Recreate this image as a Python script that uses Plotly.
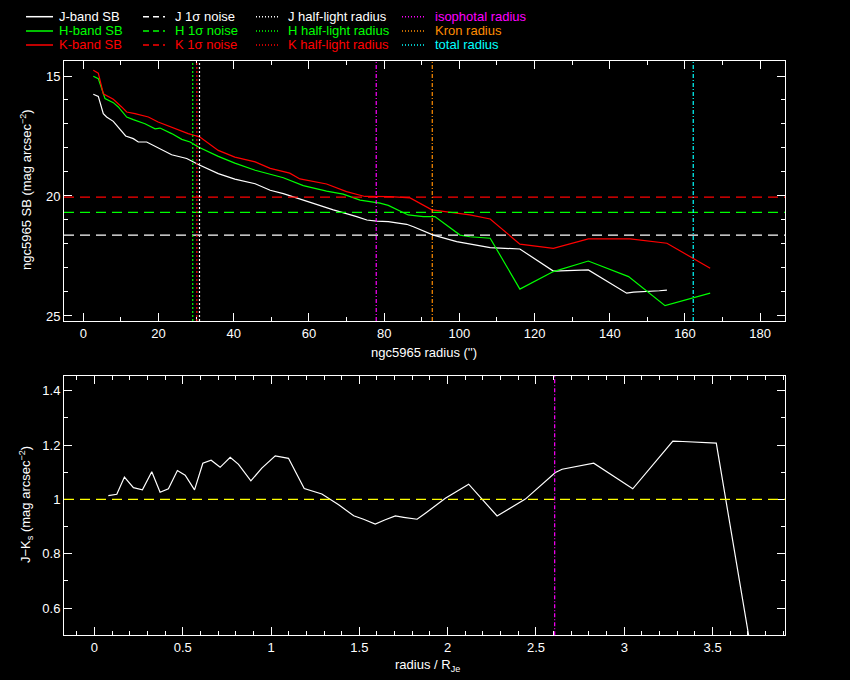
import plotly.graph_objects as go

# ---------------- data ----------------
# top panel: surface brightness profiles (radius in arcsec, SB in mag arcsec^-2)
rJ = [2.66, 3.99, 5.32, 6.2, 7.98, 9.31, 11.27, 13.3, 14.63, 16.86, 18.6, 20.4, 23.5, 27.5,
      30.6, 35.9, 40.3, 45.7, 49.7, 53.2, 58.5, 62.0, 66.5, 72.7, 75.4, 78.0, 81.1, 86.0,
      87.8, 93.1, 99.3, 108.2, 116.1, 125.0, 134.3, 144.5, 146.3, 153.2, 155.2]
sbJ = [15.76, 15.85, 16.57, 16.71, 16.89, 17.13, 17.50, 17.61, 17.75, 17.75, 17.89, 18.0, 18.28, 18.44,
       18.69, 19.07, 19.30, 19.49, 19.76, 19.90, 20.17, 20.35, 20.58, 20.86, 21.0, 21.05, 21.07, 21.18,
       21.28, 21.63, 21.90, 22.15, 22.21, 23.13, 23.08, 24.05, 24.01, 23.95, 23.92]

rH = [2.66, 3.99, 5.77, 7.98, 9.31, 11.54, 13.3, 16.4, 19.1, 20.4, 23.5, 26.2, 28.4, 30.6, 35.9,
      40.3, 45.7, 49.7, 53.2, 58.5, 64.7, 69.1, 73.6, 78.9, 81.1, 86.4, 90.4, 93.5, 100.2, 102.8,
      108.2, 116.1, 125.0, 134.3, 145.0, 154.7, 166.7]
sbH = [15.01, 15.11, 15.94, 16.11, 16.29, 16.71, 16.82, 16.99, 17.2, 17.17, 17.40, 17.64, 17.75, 17.96, 18.35,
       18.63, 18.93, 19.10, 19.24, 19.57, 19.80, 19.92, 20.17, 20.30, 20.39, 20.79, 20.86, 20.86, 21.63, 21.70,
       21.76, 23.88, 23.15, 22.71, 23.36, 24.57, 24.05]

rK = [2.66, 3.99, 5.32, 7.98, 10.2, 11.54, 13.75, 17.3, 19.9, 23.5, 27.9, 31.0, 35.9, 40.3, 45.7,
      49.7, 54.9, 57.6, 62.9, 64.7, 70.0, 74.9, 81.6, 86.9, 92.7, 97.6, 102.8, 108.2, 116.1, 125.0,
      134.3, 145.4, 155.2, 166.7]
sbK = [14.76, 14.88, 15.74, 15.97, 16.29, 16.5, 16.57, 16.71, 16.92, 17.13, 17.40, 17.54, 18.1, 18.38, 18.58,
       18.85, 19.05, 19.29, 19.45, 19.50, 19.82, 20.02, 20.03, 20.08, 20.58, 20.69, 20.79, 20.96, 22.01, 22.18,
       21.79, 21.79, 21.97, 23.01]

# 1-sigma noise levels (mag arcsec^-2)
noise_bands = ["J", "H", "K"]
noise_levels = [21.63, 20.68, 20.05]

# characteristic radii (arcsec)
halflight_bands = ["J", "H", "K"]
halflight_radii = [30.9, 29.1, 30.2]
iso_radius = 77.9
kron_radius = 92.8
total_radius = 162.2

# bottom panel: J-Ks colour profile vs radius / R_Je
x_norm = [0.079, 0.127, 0.170, 0.221, 0.272, 0.325, 0.372, 0.419, 0.470, 0.514, 0.567, 0.614, 0.661,
          0.712, 0.769, 0.816, 0.886, 0.948, 1.024, 1.052, 1.099, 1.188, 1.250, 1.288, 1.383, 1.468,
          1.524, 1.590, 1.647, 1.704, 1.751, 1.827, 1.874, 1.987, 2.119, 2.280, 2.440, 2.610, 2.648,
          2.827, 3.048, 3.275, 3.331, 3.521, 3.73]
jk = [1.014, 1.019, 1.082, 1.043, 1.035, 1.102, 1.026, 1.039, 1.106, 1.089, 1.035, 1.133, 1.144,
      1.118, 1.155, 1.129, 1.068, 1.115, 1.160, 1.156, 1.151, 1.040, 1.029, 1.020, 0.980, 0.940,
      0.927, 0.909, 0.925, 0.939, 0.934, 0.927, 0.949, 1.004, 1.056, 0.939, 1.001, 1.099, 1.111,
      1.133, 1.039, 1.214, 1.213, 1.207, 0.40]
jk_ref = 1.0
iso_radius_norm = 2.606

# ---------------- styling ----------------
W, H = 850, 680
FONT = "Liberation Sans"
WHITE = "#ffffff"
GREEN = "#00ff00"
RED = "#ff0000"
MAGENTA = "#ff00ff"
ORANGE = "#ff8c00"
CYAN = "#00ffff"
YELLOW = "#ffff00"
band_colors = {"J": WHITE, "H": GREEN, "K": RED}


def px(x):
    return x / W


def py(y):
    return 1 - y / H


fig = go.Figure()

for r, sb, b in [(rJ, sbJ, "J"), (rH, sbH, "H"), (rK, sbK, "K")]:
    fig.add_trace(go.Scatter(x=r, y=sb, mode="lines", xaxis="x", yaxis="y",
                             line=dict(color=band_colors[b], width=1.2), showlegend=False))

fig.add_trace(go.Scatter(x=x_norm, y=jk, mode="lines", xaxis="x2", yaxis="y2",
                         line=dict(color=WHITE, width=1.2), showlegend=False))

# noise lines
for b, lev in zip(noise_bands, noise_levels):
    fig.add_shape(type="line", xref="x domain", yref="y", x0=0, x1=1, y0=lev, y1=lev,
                  line=dict(color=band_colors[b], width=1.3, dash="10px,6px"))
# half-light radii
for b, rad in zip(halflight_bands, halflight_radii):
    fig.add_shape(type="line", xref="x", yref="y domain", x0=rad, x1=rad, y0=0, y1=1,
                  line=dict(color=band_colors[b], width=1.2, dash="2px,2px"))
for rad, col in [(iso_radius, MAGENTA), (kron_radius, ORANGE), (total_radius, CYAN)]:
    fig.add_shape(type="line", xref="x", yref="y domain", x0=rad, x1=rad, y0=0, y1=1,
                  line=dict(color=col, width=1.2, dash="4px,2px,1px,2px"))

# bottom panel reference lines
fig.add_shape(type="line", xref="x2 domain", yref="y2", x0=0, x1=1, y0=jk_ref, y1=jk_ref,
              line=dict(color=YELLOW, width=1.3, dash="10px,6px"))
fig.add_shape(type="line", xref="x2", yref="y2 domain", x0=iso_radius_norm, x1=iso_radius_norm,
              y0=0, y1=1, line=dict(color=MAGENTA, width=1.2, dash="4px,2px,1px,2px"))

# ---------------- legend (manual) ----------------
rows_y = [16.7, 31.0, 45.0]
legend_cols = [
    dict(x0=26, x1=53, tx=57, dash="solid",
         items=[("J-band SB", WHITE), ("H-band SB", GREEN), ("K-band SB", RED)]),
    dict(x0=143, x1=165, tx=173, dash="6px,4px",
         items=[("J 1σ noise", WHITE), ("H 1σ noise", GREEN), ("K 1σ noise", RED)]),
    dict(x0=256, x1=280, tx=286, dash="1px,2px",
         items=[("J half-light radius", WHITE), ("H half-light radius", GREEN), ("K half-light radius", RED)]),
    dict(x0=402, x1=426, tx=433, dash="1px,2px",
         items=[("isophotal radius", MAGENTA), ("Kron radius", ORANGE), ("total radius", CYAN)]),
]
for col in legend_cols:
    for (label, color), yy in zip(col["items"], rows_y):
        fig.add_shape(type="line", xref="paper", yref="paper",
                      x0=px(col["x0"]), x1=px(col["x1"]), y0=py(yy), y1=py(yy),
                      line=dict(color=color, width=1.5, dash=col["dash"]))
        fig.add_annotation(xref="paper", yref="paper", x=px(col["tx"]), y=py(yy),
                           text=label, showarrow=False, xanchor="left", yanchor="middle",
                           font=dict(family=FONT, size=13, color=color))

# axis titles
fig.add_annotation(xref="paper", yref="paper", x=px(26), y=py(190), textangle=-90,
                   text="ngc5965 SB (mag arcsec<sup>−2</sup>)", showarrow=False,
                   xanchor="center", yanchor="middle",
                   font=dict(family=FONT, size=13, color=WHITE))
fig.add_annotation(xref="paper", yref="paper", x=px(424), y=py(352),
                   text="ngc5965 radius ('')", showarrow=False,
                   xanchor="center", yanchor="middle",
                   font=dict(family=FONT, size=13, color=WHITE))
fig.add_annotation(xref="paper", yref="paper", x=px(26), y=py(505), textangle=-90,
                   text="J−K<sub>s</sub> (mag arcsec<sup>−2</sup>)", showarrow=False,
                   xanchor="center", yanchor="middle",
                   font=dict(family=FONT, size=13, color=WHITE))
fig.add_annotation(xref="paper", yref="paper", x=px(427), y=py(655),
                   text="radius / R<sub>Je</sub>", showarrow=False,
                   xanchor="center", yanchor="top",
                   font=dict(family=FONT, size=13, color=WHITE))

axis_common = dict(showgrid=False, zeroline=False, showline=True, linecolor=WHITE, linewidth=1,
                   mirror="ticks", ticks="inside", ticklen=8, tickwidth=1, tickcolor=WHITE,
                   tickfont=dict(family=FONT, size=13, color=WHITE), automargin=False)

xdom = [px(64), px(785)]
fig.update_layout(
    width=W, height=H, template="none",
    paper_bgcolor="black", plot_bgcolor="black",
    margin=dict(l=0, r=0, t=0, b=0),
    showlegend=False,
    xaxis=dict(domain=xdom, range=[-5.13, 186.6], dtick=20, tick0=0, anchor="y",
               minor=dict(dtick=10, ticklen=4, ticks="inside", tickcolor=WHITE), **axis_common),
    yaxis=dict(domain=[py(321), py(61)], range=[25.21, 14.375], dtick=5, tick0=15, anchor="x",
               minor=dict(dtick=1, ticklen=4, ticks="inside", tickcolor=WHITE), **axis_common),
    xaxis2=dict(domain=xdom, range=[-0.172, 3.91], dtick=0.5, tick0=0, anchor="y2",
                minor=dict(dtick=0.1, ticklen=4, ticks="inside", tickcolor=WHITE), **axis_common),
    yaxis2=dict(domain=[py(635.3), py(375.7)], range=[0.5, 1.455], dtick=0.2, tick0=0.6, anchor="x2",
                minor=dict(dtick=0.1, ticklen=4, ticks="inside", tickcolor=WHITE), **axis_common),
)

fig.write_html(
    "out.html",
    config={"displayModeBar": False},
    post_script="document.body.style.margin='0';document.body.style.background='black';"
                "document.body.style.overflow='hidden';",
)
